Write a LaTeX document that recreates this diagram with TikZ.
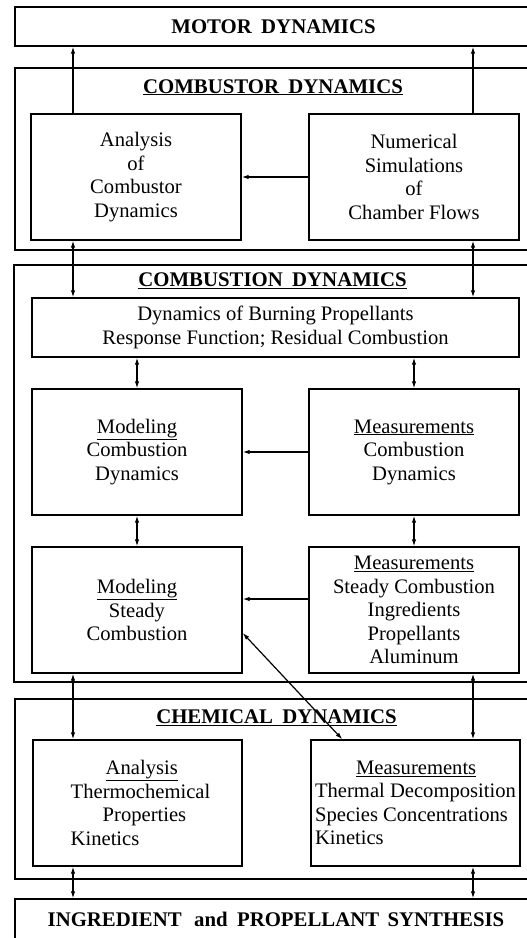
\documentclass[tikz,border=0pt]{standalone}
\usepackage{fontspec}
\setmainfont{Liberation Serif}
\usetikzlibrary{arrows.meta,calc}
\begin{document}
\begin{tikzpicture}[x=1pt,y=-1pt,
  every node/.style={font=\fontsize{20.6}{23.5}\selectfont},
  box/.style={draw, line width=1.4pt, minimum width=210pt, minimum height=126pt, inner sep=0pt, align=center},
  frame/.style={draw, line width=1.4pt, inner sep=0pt},
  title/.style={font=\fontsize{20.8}{24}\selectfont\bfseries, anchor=base, inner sep=0pt},
  link/.style={line width=1.2pt, -{Latex[length=7pt,width=4.5pt]}},
  dlink/.style={line width=1.2pt, {Latex[length=7pt,width=4.5pt]}-{Latex[length=7pt,width=4.5pt]}},
]
\useasboundingbox (0,0) rectangle (527,938);
\clip (0,0) rectangle (527,938);

% columns of the long vertical links
\coordinate (L) at (73,0);
\coordinate (R) at (473,0);

% ---- motor level
\node[frame, minimum width=517pt, minimum height=39pt, font=\fontsize{20.8}{24}\selectfont\bfseries] (motor) at (273.5,26.5) {MOTOR\hspace{0.45em}DYNAMICS};

% ---- combustor dynamics
\node[frame, minimum width=517pt, minimum height=182pt] (cmbr) at (273.5,159) {};
\node[title] (cmbrT) at (273,93) {\underline{COMBUSTOR\hspace{0.45em}DYNAMICS}};
\node[box] (anal) at (136,177) {Analysis\\of\\Combustor\\Dynamics};
\node[box] (num) at (414,177) {Numerical\\Simulations\\of\\Chamber Flows};

% ---- combustion dynamics
\node[frame, minimum width=518pt, minimum height=417pt] (cmbn) at (273,473.5) {};
\node[title] (cmbnT) at (272.5,286.7) {\underline{COMBUSTION\hspace{0.45em}DYNAMICS}};
\node[box, minimum width=487pt, minimum height=59pt] (dyn) at (275.5,327.5)
  {Dynamics of Burning Propellants\\Response Function; Residual Combustion};
\node[box] (modcd) at (137,452) {\underline{Modeling}\\Combustion\\Dynamics};
\node[box] (meascd) at (414,452) {\underline{Measurements}\\Combustion\\Dynamics};
\node[box] (modss) at (137,610) {\underline{Modeling}\\Steady\\Combustion};
\node[box] (measss) at (414,610) {\underline{Measurements}\\Steady Combustion\\Ingredients\\Propellants\\Aluminum};

% ---- chemical dynamics
\node[frame, minimum width=517pt, minimum height=180pt] (chem) at (273.5,789) {};
\node[title] (chemT) at (276.5,723.3) {\underline{CHEMICAL\hspace{0.45em}DYNAMICS}};
\node[box, minimum width=209pt, align=left] (chemA) at (137.5,803)
  {\hspace*{41pt}\underline{Analysis}\\\hspace*{6pt}Thermochemical\\\hspace*{38pt}Properties\\\hspace*{6pt}Kinetics};
\node[box, minimum width=209pt, align=left] (chemM) at (415.5,803)
  {\hspace*{41pt}\underline{Measurements}\\Thermal Decomposition\\Species Concentrations\\Kinetics};

% ---- synthesis
\node[frame, minimum width=517pt, minimum height=62pt] (ingr) at (273.5,930) {};
\node[title] (ingrT) at (276,926.7) {INGREDIENT\hspace{0.6em}and\hspace{0.45em}PROPELLANT\hspace{0.4em}SYNTHESIS};

% ---- links
\draw[link] (anal.north -| L) -- (motor.south -| L);
\draw[link] (num.north -| R) -- (motor.south -| R);
\draw[link] (num.west) -- (anal.east);
\draw[dlink] (anal.south -| L) -- (dyn.north -| L);
\draw[dlink] (num.south -| R) -- (dyn.north -| R);
\draw[dlink] (dyn.south -| modcd) -- (modcd.north);
\draw[dlink] (dyn.south -| meascd) -- (meascd.north);
\draw[link] (meascd.west) -- (modcd.east);
\draw[dlink] (modcd.south) -- (modss.north);
\draw[dlink] (meascd.south) -- (measss.north);
\path (measss.west) ++(0,-11) coordinate (sA);
\draw[link] (sA) -- (sA -| modss.east);
\path (modss.east) ++(0,23) coordinate (dA);
\path (chemM.north west) ++(32,0) coordinate (dB);
\draw[dlink] (dA) -- (dB);
\draw[dlink] (modss.south -| L) -- (chemA.north -| L);
\draw[dlink] (measss.south -| R) -- (chemM.north -| R);
\draw[dlink] (chemA.south -| L) -- (ingr.north -| L);
\draw[dlink] (chemM.south -| R) -- (ingr.north -| R);
\end{tikzpicture}
\end{document}
